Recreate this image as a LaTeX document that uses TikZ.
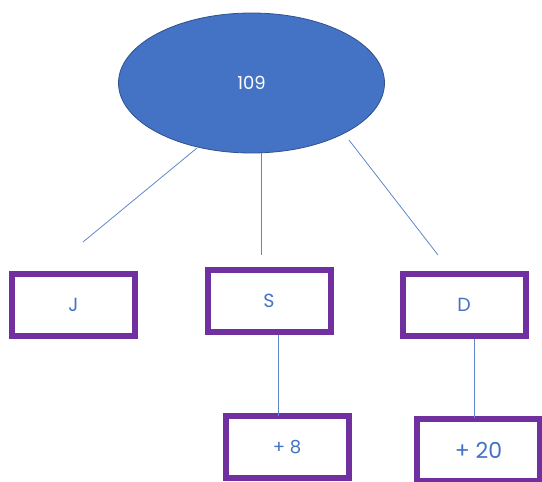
\documentclass[tikz,border=0pt]{standalone}
\usepackage{fontspec}
\setmainfont{Poppins}
\usetikzlibrary{shapes.geometric}
\definecolor{blueA}{HTML}{4472C4}
\definecolor{blueEdge}{HTML}{2F528F}
\definecolor{purp}{HTML}{7030A0}
\tikzset{
  root/.style={ellipse, fill=blueA, draw=blueEdge, line width=0.8pt,
    minimum width=266pt, minimum height=140pt, inner sep=0pt,
    text=white, font=\fontsize{18}{18}\selectfont},
  leaf/.style={rectangle, draw=purp, line width=6pt, fill=white,
    minimum width=123pt, minimum height=62pt, inner sep=0pt,
    text=blueA, font=\fontsize{19}{19}\selectfont},
  link/.style={draw=blueA!85, line width=0.8pt}
}
\begin{document}
\begin{tikzpicture}[x=1pt,y=-1pt]
  \useasboundingbox (0,0) rectangle (542,482);
  \node[root] (top) at (251.5,83) {109};
  \node[leaf] (j) at (73.5,305) {J};
  \node[leaf] (s) at (269,301) {S};
  \node[leaf] (d) at (464,304.5) {D};
  \node[leaf, font=\fontsize{18}{18}\selectfont] (p8) at (287,447) {+ 8};
  \node[leaf, font=\fontsize{22}{22}\selectfont] (p20) at (478.5,450) {+ 20};
  % free-standing branch strokes under the root
  \coordinate (l1a) at (197,148); \coordinate (l1b) at (83,242);
  \coordinate (l2a) at (261,153); \coordinate (l2b) at (261,255);
  \coordinate (l3a) at (349,140); \coordinate (l3b) at (438,255);
  \draw[link] (l1a) -- (l1b);
  \draw[link] (l2a) -- (l2b);
  \draw[link] (l3a) -- (l3b);
  % stems down to the lower boxes
  \coordinate (s8) at (278,416);
  \coordinate (s20) at (474,418);
  \draw[link] (s.south -| s8) -- (s8);
  \draw[link] (d.south -| s20) -- (s20);
\end{tikzpicture}
\end{document}
